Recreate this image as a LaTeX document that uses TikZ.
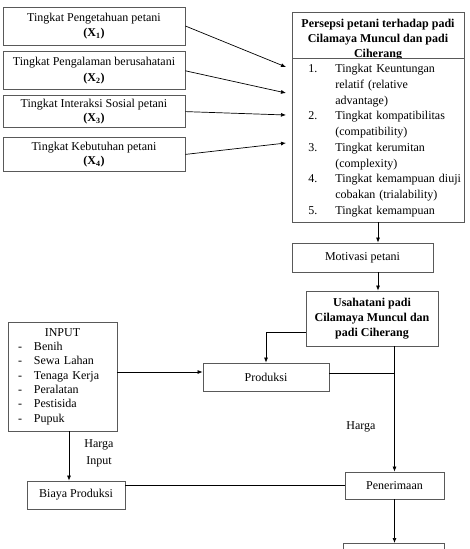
\documentclass[tikz,border=0pt]{standalone}
\usepackage{fontspec}
\setmainfont{Liberation Serif}
\usetikzlibrary{positioning,arrows.meta}
\tikzset{
    kotak/.style ={
        shape=rectangle,
        draw=black!65,
        line width=0.8pt,
        fill=white,
        align=center,
        inner sep=1pt,
        font=\fontsize{12}{15.5}\selectfont
    },
    tebal/.style ={
        kotak,
        font=\fontsize{12}{15.3}\selectfont\bfseries
    },
    teks/.style ={
        inner sep=0pt,
        align=center,
        font=\fontsize{12}{17}\selectfont
    },
    panah/.style ={
        -{Latex[length=5pt,width=4pt]},
        line width=0.7pt
    },
    garis/.style ={
        line width=0.7pt
    }
}

\begin{document}
\begin{tikzpicture}[x=1pt,y=-1pt]
    \useasboundingbox (0,0) rectangle (469,549);
    % faktor X1 - X4
    \node[kotak,minimum width=182pt,minimum height=38pt] (x1) at (94,26) {Tingkat Pengetahuan petani\\\textbf{(X\textsubscript{1})}};
    \node[kotak,minimum width=182pt,minimum height=38pt,below=6pt of x1] (x2) {Tingkat Pengalaman berusahatani\\\textbf{(X\textsubscript{2})}};
    \node[kotak,minimum width=182pt,minimum height=32pt,below=5pt of x2,font=\fontsize{12}{13.5}\selectfont] (x3) {Tingkat Interaksi Sosial petani\\\textbf{(X\textsubscript{3})}};
    \node[kotak,minimum width=182pt,minimum height=34pt,below=9pt of x3,font=\fontsize{12}{14}\selectfont] (x4) {Tingkat Kebutuhan petani\\\textbf{(X\textsubscript{4})}};
    % persepsi
    \node[kotak,minimum width=172pt,minimum height=210pt] (persepsi) at (378,117) {};
    \node[teks,font=\fontsize{12}{15}\selectfont\bfseries] (judul) at (378,39.5) {Persepsi petani terhadap padi\\Cilamaya Muncul dan padi\\Ciherang};
    \node[kotak,anchor=north west,minimum width=172pt,minimum height=164pt,text width=172pt,inner xsep=0pt,align=left,font=\fontsize{12}{15.7}\selectfont] (indikator) at (292,58) {%
        \begin{tabular}{@{\hspace{16pt}}p{27pt}@{}l@{}}
        1. & Tingkat Keuntungan\\
           & relatif (relative\\
           & advantage)\\
        2. & Tingkat kompatibilitas\\
           & (compatibility)\\
        3. & Tingkat kerumitan\\
           & (complexity)\\
        4. & Tingkat kemampuan diuji\\
           & cobakan (trialability)\\
        5. & Tingkat kemampuan
        \end{tabular}};
    \coordinate (t1) at (286,67);
    \coordinate (t2) at (286,93);
    \coordinate (t3) at (286,115);
    \coordinate (t4) at (286,143);
    % alur usahatani
    \node[kotak,minimum width=141pt,minimum height=29pt] (motivasi) at (362.5,257.5) {Motivasi petani};
    \node[tebal,minimum width=132pt,minimum height=55pt] (usahatani) at (372,318.5) {Usahatani padi\\Cilamaya Muncul dan\\padi Ciherang};
    \node[kotak,minimum width=126pt,minimum height=28pt] (produksi) at (266,377) {Produksi};
    \node[kotak,minimum width=99pt,minimum height=27pt] (penerimaan) at (394.5,485.5) {Penerimaan};
    \node[kotak,anchor=north,minimum width=101pt,minimum height=30pt] (akhir) at (393.5,543) {};
    \node[kotak,minimum width=109pt,minimum height=109pt,text width=89pt,inner xsep=10pt,align=left,font=\fontsize{12}{14.3}\selectfont] (input) at (62.5,376.5) {%
        \makebox[89pt]{INPUT}\\
        \makebox[16pt][l]{-}Benih\\
        \makebox[16pt][l]{-}Sewa Lahan\\
        \makebox[16pt][l]{-}Tenaga Kerja\\
        \makebox[16pt][l]{-}Peralatan\\
        \makebox[16pt][l]{-}Pestisida\\
        \makebox[16pt][l]{-}Pupuk};
    \node[kotak,minimum width=98pt,minimum height=28pt] (biaya) at (76,495) {Biaya Produksi};
    \node[teks] (harga) at (361,427) {Harga};
    \node[teks] (hargainput) at (99,453.5) {Harga\\Input};
    % panah
    \draw[panah] (x1.east) -- (t1);
    \draw[panah] (x2.east) -- (t2);
    \draw[panah] (x3.east) -- (t3);
    \draw[panah] (x4.east) -- (t4);
    \draw[panah] (persepsi.south) -- (persepsi.south |- motivasi.north);
    \draw[panah] (persepsi.south |- motivasi.south) -- (persepsi.south |- usahatani.north);
    \draw[panah] ([yshift=-13.5pt]usahatani.west) -| (produksi.north);
    \draw[garis] ([yshift=4pt]produksi.east) -- ([yshift=4pt]produksi.east -| penerimaan.north);
    \draw[panah] (usahatani.south -| penerimaan.north) -- (penerimaan.north);
    \draw[panah] (penerimaan.south) -- (penerimaan.south |- akhir.north);
    \draw[panah] ([yshift=5pt]produksi.west -| input.east) -- ([yshift=5pt]produksi.west);
    \draw[panah] ([xshift=6.5pt]input.south) -- ([xshift=6.5pt]input.south |- biaya.north);
    \draw[garis] (penerimaan.west -| biaya.east) -- (penerimaan.west);
\end{tikzpicture}
\end{document}
